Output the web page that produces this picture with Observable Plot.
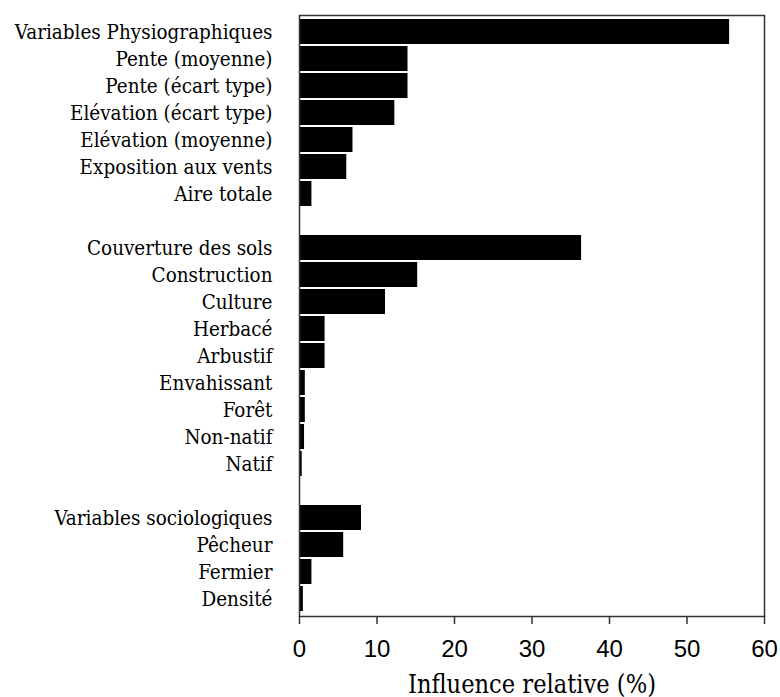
<!DOCTYPE html>
<html>
<head>
<meta charset="utf-8">
<script src="https://cdn.jsdelivr.net/npm/d3@7"></script>
<script src="https://cdn.jsdelivr.net/npm/@observablehq/plot@0.6"></script>
<style>
  body { margin: 0; background: #fff; }
  svg { display: block; }
</style>
</head>
<body>
<div id="chart"></div>
<script>
const physioLabels = ["Variables Physiographiques", "Pente (moyenne)", "Pente (écart type)", "Elévation (écart type)", "Elévation (moyenne)", "Exposition aux vents", "Aire totale"];
const physioValues = [55.5, 14.0, 14.0, 12.3, 6.9, 6.1, 1.6];
const coverLabels = ["Couverture des sols", "Construction", "Culture", "Herbacé", "Arbustif", "Envahissant", "Forêt", "Non-natif", "Natif"];
const coverValues = [36.4, 15.25, 11.1, 3.3, 3.3, 0.75, 0.75, 0.65, 0.35];
const socioLabels = ["Variables sociologiques", "Pêcheur", "Fermier", "Densité"];
const socioValues = [8.0, 5.7, 1.6, 0.5];
const xTicks = [0, 10, 20, 30, 40, 50, 60];
const xLabel = "Influence relative (%)";

const spacers = [" ", "  "];
const domain = [...physioLabels, spacers[0], ...coverLabels, spacers[1], ...socioLabels];
const rows = [
  ...physioLabels.map((c, i) => ({c, v: physioValues[i]})),
  ...coverLabels.map((c, i) => ({c, v: coverValues[i]})),
  ...socioLabels.map((c, i) => ({c, v: socioValues[i]}))
];

const serif = "'DejaVu Serif Condensed', 'DejaVu Serif', serif";

const chart = Plot.plot({
  width: 780,
  height: 697,
  marginLeft: 299,
  marginRight: 16,
  marginTop: 15,
  marginBottom: 81,
  style: {background: "#fff", color: "#000"},
  x: {domain: [0, 60], axis: null},
  y: {domain, paddingInner: 0.07, paddingOuter: 0, axis: null},
  marks: [
    Plot.barX(rows, {x: "v", y: "c", fill: "#000"}),
    Plot.frame({stroke: "#333", strokeWidth: 1.5}),
    Plot.axisX({ticks: xTicks, tickSize: 8, tickPadding: 15, stroke: "#333", strokeWidth: 1.5, fill: "#000",
      fontFamily: "Liberation Sans", fontSize: 24, label: null, tickFormat: d => String(d)}),
    Plot.axisY({tickSize: 0, tickPadding: 27, fontFamily: serif, fontSize: 20,
      fill: "#000", label: null, tickFormat: d => d.trim()}),
    Plot.text([xLabel], {frameAnchor: "bottom", dy: 76, fontFamily: serif, fontSize: 24, fill: "#000"})
  ]
});
document.getElementById("chart").append(chart);

// fit serif text widths to the reference proportions
function fitGroup(sel, targetWidth, baseSize) {
  const g = chart.querySelector(sel);
  if (!g) return;
  let maxW = 0;
  g.querySelectorAll("text").forEach(t => { maxW = Math.max(maxW, t.getComputedTextLength()); });
  if (maxW > 0) g.setAttribute("font-size", (baseSize * targetWidth / maxW).toFixed(2));
}
fitGroup('g[aria-label="y-axis tick label"]', 258, 20);
fitGroup('g[aria-label="text"]', 248, 24);
</script>
</body>
</html>
